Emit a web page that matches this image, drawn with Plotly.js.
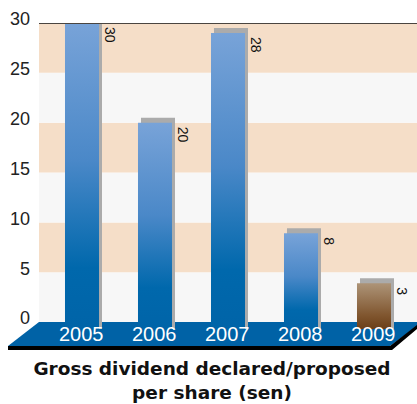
<!DOCTYPE html>
<html>
<head>
<meta charset="utf-8">
<script src="https://cdn.plot.ly/plotly-3.0.1.min.js"></script>
<style>
  html, body { margin: 0; padding: 0; background: #ffffff; }
  #chart { width: 417px; height: 404px; }
</style>
</head>
<body>
<div id="chart"></div>
<script>
// ---- data ----
var years = ['2005', '2006', '2007', '2008', '2009'];
var barHeights = [30, 20, 29, 8.9, 3.9];        // bar tops as drawn
var valueLabels = ['30', '20', '28', '8', '3'];  // printed values
var yTicks = [0, 5, 10, 15, 20, 25, 30];

// ---- styling ----
var W = 417, H = 404;
var L = 39, R = 417, T = 23, B = 350;           // plot area pixels
var yMin = -2.8, yMax = 30;
var xMin = -0.589, xMax = 4.589;
var barW = 0.466, shadowDx = 0.041, shadowTop = 0.5, barBase = -0.7;

function px2paperX(px) { return (px - L) / (R - L); }
function px2paperY(py) { return (B - py) / (B - T); }

var blueScale = [[0, '#0064A8'], [0.2, '#0068AC'], [0.55, '#4A88C8'], [1, '#78A3D8']];
var brownScale = [[0, '#6B3F18'], [0.3, '#80562F'], [1, '#AD9478']];

var traces = [];
// shadows
traces.push({
  type: 'bar',
  x: years.map(function (_, i) { return i + shadowDx; }),
  y: barHeights.map(function (h) { return h + shadowTop - barBase; }),
  base: barHeights.map(function () { return barBase; }),
  width: barW,
  marker: { color: '#ABABAB', line: { width: 0 } },
  hoverinfo: 'skip',
  showlegend: false
});
// gradient bars
barHeights.forEach(function (h, i) {
  var x0 = i - barW / 2, x1 = i + barW / 2;
  traces.push({
    type: 'scatter',
    mode: 'lines',
    x: [x0, x1, x1, x0, x0],
    y: [barBase, barBase, h, h, barBase],
    fill: 'toself',
    line: { width: 0, color: 'rgba(0,0,0,0)' },
    fillcolor: i === 4 ? '#8E6A48' : '#3B80C0',
    fillgradient: {
      type: 'vertical',
      colorscale: i === 4 ? brownScale : blueScale,
      start: barBase,
      stop: h
    },
    hoverinfo: 'skip',
    showlegend: false
  });
});

var shapes = [];
// background bands
for (var k = 0; k < yTicks.length - 1; k++) {
  shapes.push({
    type: 'rect', layer: 'below', xref: 'paper', yref: 'y',
    x0: 0, x1: 1, y0: yTicks[k], y1: yTicks[k + 1],
    fillcolor: k % 2 === 0 ? '#F7F7F7' : '#F5DEC8',
    line: { width: 0 }
  });
}
// floor
function pathFrom(pts) {
  return 'M' + pts.map(function (p) {
    return px2paperX(p[0]) + ',' + px2paperY(p[1]);
  }).join('L') + 'Z';
}
shapes.push({
  type: 'path', layer: 'below', xref: 'paper', yref: 'paper',
  path: pathFrom([[39, 322], [417, 322], [417, 326], [390, 346], [8, 346]]),
  fillcolor: '#0062A6', line: { width: 0 }
});
shapes.push({
  type: 'path', layer: 'below', xref: 'paper', yref: 'paper',
  path: pathFrom([[8, 346], [390, 346], [417, 325], [417, 329], [392, 350], [8, 350]]),
  fillcolor: '#000000', line: { width: 0 }
});
// top line
shapes.push({
  type: 'line', layer: 'above', xref: 'paper', yref: 'y',
  x0: 0, x1: 1, y0: 30, y1: 30,
  line: { color: '#4A4540', width: 2 }
});

var annotations = [];
years.forEach(function (yr, i) {
  annotations.push({
    x: i, y: -1.2, xref: 'x', yref: 'y', text: yr, showarrow: false,
    xanchor: 'center', yanchor: 'middle', xshift: -1,
    font: { family: 'Liberation Sans, Arial, sans-serif', size: 20, color: '#ffffff' }
  });
  annotations.push({
    x: i, y: barHeights[i], xref: 'x', yref: 'y', text: valueLabels[i], showarrow: false,
    textangle: 90, xanchor: 'center', yanchor: 'top', xshift: 28, yshift: -2,
    font: { family: 'Liberation Sans, Arial, sans-serif', size: 14, color: '#111111' }
  });
});

var layout = {
  width: W, height: H,
  margin: { l: L, r: W - R, t: T, b: H - B, pad: 0 },
  paper_bgcolor: '#ffffff',
  plot_bgcolor: 'rgba(0,0,0,0)',
  showlegend: false,
  barmode: 'overlay',
  title: {
    text: '<b>Gross dividend declared/proposed<br>per share (sen)</b>',
    x: 212 / W, xanchor: 'center', xref: 'container',
    y: (H - 374.5) / H, yanchor: 'middle', yref: 'container',
    font: { family: 'DejaVu Sans, sans-serif', size: 18.5, color: '#111111' }
  },
  xaxis: {
    range: [xMin, xMax], visible: false, fixedrange: true
  },
  yaxis: {
    range: [yMin, yMax], tickvals: yTicks, ticktext: yTicks.map(String),
    showgrid: false, zeroline: false, showline: false, ticks: '',
    ticklabelshift: -4, ticklabelstandoff: 8,
    tickfont: { family: 'Liberation Sans, Arial, sans-serif', size: 18, color: '#222222' },
    fixedrange: true
  },
  shapes: shapes,
  annotations: annotations
};

Plotly.newPlot('chart', traces, layout, { displayModeBar: false, staticPlot: true });
</script>
</body>
</html>
